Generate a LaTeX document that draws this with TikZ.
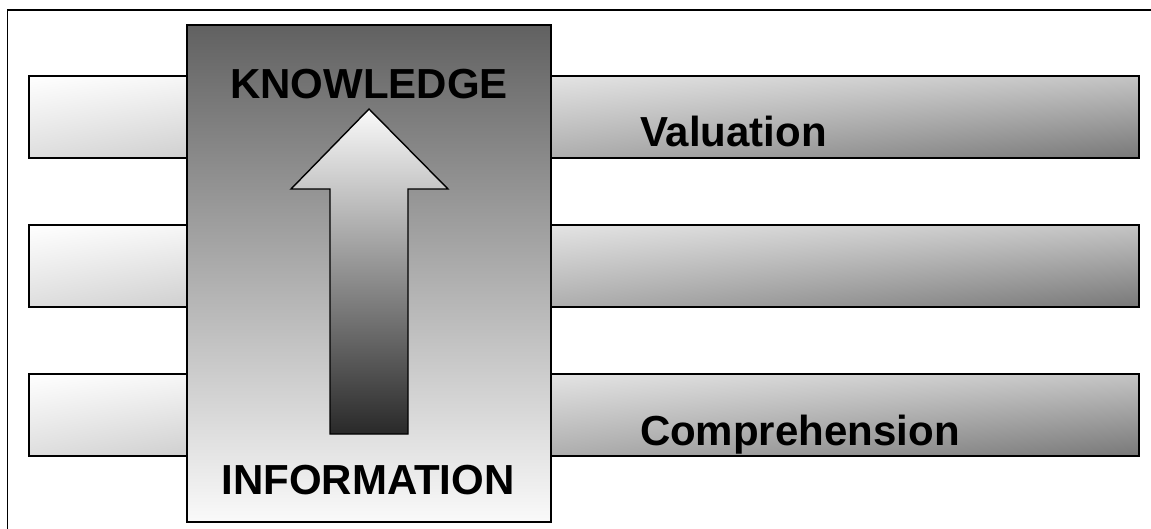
\documentclass[tikz,border=0pt]{standalone}
\usepackage{fontspec}
\setmainfont{Liberation Sans}
\usepackage{tikz}
\usetikzlibrary{positioning, shadings}

\begin{document}
\begin{tikzpicture}[x=1pt, y=-1pt,
    every node/.style={inner sep=0pt, outer sep=0pt},
    bar/.style={draw=black, line width=1.6pt, shade,
        upper left=white, upper right=black!23,
        lower left=black!13, lower right=black!53,
        minimum width=1110pt, minimum height=82pt},
    label/.style={font=\bfseries\fontsize{42}{50}\selectfont, text=black}]
    \useasboundingbox (0,0) rectangle (1151,529);
    % frame running off the page
    \draw[line width=1.8pt] (7.5,560) |- (1180,10);
    % the three levels
    \node[bar] (valbar) at (584,117) {};
    \node[bar] (midbar) at (584,266) {};
    \node[bar] (combar) at (584,415) {};
    % middle column with the arrow
    \node[draw=black, line width=1.4pt, shade, top color=black!62, middle color=black!28, bottom color=black!2,
        minimum width=364pt, minimum height=497pt] (infobox) at (369,273.5) {};
    \shade[draw=black, line width=1.4pt, top color=black!2, middle color=black!33, bottom color=black!84]
        (369,109) -- (448,189) -- (408,189) -- (408,434) -- (330,434) -- (330,189) -- (291,189) -- cycle;
    \node[label, anchor=base] (know) at (369,99) {KNOWLEDGE};
    \node[label, anchor=base] (info) at (368,494) {INFORMATION};
    \node[label, anchor=base west] (val) at (640,147) {Valuation};
    \node[label, anchor=base west] (comp) at (640,445) {Comprehension};
\end{tikzpicture}
\end{document}
